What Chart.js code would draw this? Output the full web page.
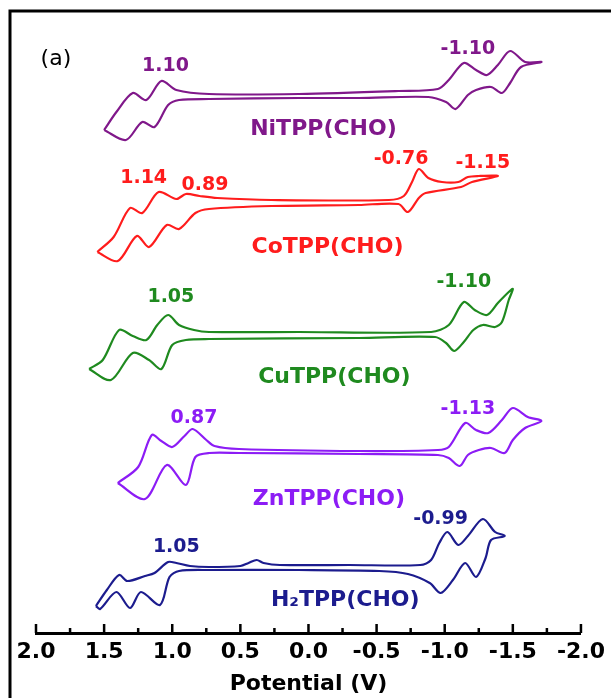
<!DOCTYPE html>
<html>
<head>
<meta charset="utf-8">
<script src="https://cdn.jsdelivr.net/npm/chart.js@4.4.1/dist/chart.umd.min.js"></script>
<style>
    html, body { margin: 0; padding: 0; background: #fff; }
    #wrap { width: 611px; height: 698px; }
</style>
</head>
<body>
<div id="wrap"><canvas id="cvChart" width="611" height="698"></canvas></div>
<script>
// potential (V) and stacked current (arb. units), traced round each loop
const niE = [1.50, 1.41, 1.29, 1.19, 1.08, 0.97, 0.73, 0.07, -0.66, -0.95, -1.03, -1.14, -1.23, -1.31, -1.39, -1.48, -1.59, -1.71, -1.56, -1.48, -1.42, -1.34, -1.23, -1.17, -1.08, -1.01, -0.88, -0.37, 0.07, 0.73, 0.95, 1.03, 1.13, 1.22, 1.34, 1.50];
const niI = [50.3, 52.1, 54.0, 53.3, 55.2, 54.3, 53.9, 53.9, 54.2, 54.4, 55.3, 57.0, 56.3, 55.8, 56.8, 58.2, 57.1, 57.1, 56.6, 55.0, 54.0, 54.6, 54.3, 53.8, 52.4, 53.1, 53.6, 53.5, 53.5, 53.4, 53.3, 52.8, 50.6, 51.1, 49.3, 50.3];

const coE = [1.55, 1.43, 1.31, 1.22, 1.10, 0.97, 0.90, 0.80, 0.67, 0.27, -0.59, -0.70, -0.76, -0.81, -0.88, -0.98, -1.10, -1.17, -1.25, -1.39, -1.20, -1.12, -0.86, -0.81, -0.73, -0.66, -0.37, 0.27, 0.73, 0.83, 0.95, 1.04, 1.17, 1.26, 1.40, 1.55];
const coI = [38.1, 39.6, 42.5, 42.0, 44.1, 43.4, 43.9, 43.7, 43.5, 43.3, 43.3, 43.7, 45.1, 46.4, 45.5, 45.1, 45.1, 45.6, 45.7, 45.7, 45.1, 44.6, 44.0, 43.5, 42.1, 42.9, 42.8, 42.7, 42.4, 42.0, 40.4, 40.8, 38.6, 39.7, 37.2, 38.1];

const cuE = [1.61, 1.51, 1.39, 1.29, 1.19, 1.11, 1.03, 0.95, 0.84, 0.73, 0.07, -0.90, -1.03, -1.14, -1.22, -1.31, -1.39, -1.47, -1.50, -1.47, -1.42, -1.37, -1.28, -1.21, -1.14, -1.07, -1.01, -0.93, -0.37, 0.73, 0.90, 1.00, 1.08, 1.17, 1.29, 1.45, 1.61];
const cuI = [26.4, 27.3, 30.3, 29.7, 29.3, 30.8, 31.8, 30.8, 30.3, 30.1, 30.1, 30.1, 30.8, 33.1, 32.3, 31.8, 33.0, 34.1, 34.4, 33.3, 31.1, 30.6, 30.8, 30.3, 29.1, 28.2, 29.0, 29.6, 29.5, 29.4, 29.3, 28.8, 26.4, 27.3, 28.0, 25.3, 26.4];

const znE = [1.40, 1.25, 1.15, 1.08, 1.00, 0.91, 0.85, 0.75, 0.69, 0.51, -0.37, -0.95, -1.03, -1.15, -1.23, -1.32, -1.42, -1.50, -1.61, -1.71, -1.59, -1.50, -1.44, -1.34, -1.25, -1.17, -1.11, -1.03, -0.95, -0.37, 0.51, 0.73, 0.83, 0.90, 1.04, 1.20, 1.40];
const znI = [15.0, 16.6, 19.8, 19.2, 18.6, 19.7, 20.4, 19.3, 18.7, 18.4, 18.2, 18.3, 18.6, 21.0, 20.3, 20.0, 21.3, 22.5, 21.6, 21.2, 20.5, 19.3, 18.0, 18.5, 18.3, 17.8, 16.7, 17.5, 17.8, 17.9, 18.0, 18.0, 17.6, 14.8, 16.8, 13.4, 15.0];

const h2E = [1.56, 1.48, 1.39, 1.33, 1.20, 1.13, 1.03, 0.97, 0.87, 0.73, 0.50, 0.44, 0.38, 0.33, 0.21, -0.30, -0.82, -0.90, -0.96, -1.02, -1.10, -1.17, -1.28, -1.37, -1.44, -1.34, -1.30, -1.23, -1.15, -1.06, -0.97, -0.89, -0.73, -0.52, 0.07, 0.73, 0.95, 1.02, 1.09, 1.23, 1.31, 1.41, 1.53, 1.56];
const h2I = [2.7, 4.3, 5.8, 5.2, 5.7, 6.0, 7.1, 7.0, 6.7, 6.6, 6.7, 7.0, 7.3, 7.0, 6.8, 6.8, 6.8, 7.3, 9.0, 10.1, 8.8, 9.7, 11.4, 10.1, 9.7, 9.3, 7.5, 5.6, 7.0, 5.3, 4.0, 5.0, 5.9, 6.2, 6.3, 6.3, 6.2, 5.6, 2.8, 4.1, 2.5, 4.1, 2.4, 2.7];

const xTicks = [2.0, 1.5, 1.0, 0.5, 0.0, -0.5, -1.0, -1.5, -2.0];
const xMinorTicks = [1.75, 1.25, 0.75, 0.25, -0.25, -0.75, -1.25, -1.75];

// annotations: text, anchor potential, anchor current, which curve
const labelText = ["1.10", "-1.10", "NiTPP(CHO)", "1.14", "0.89", "-0.76", "-1.15", "CoTPP(CHO)", "1.05", "-1.10", "CuTPP(CHO)", "0.87", "-1.13", "ZnTPP(CHO)", "1.05", "-0.99", "H\u2082TPP(CHO)"];
const labelE = [1.05, -1.17, -0.11, 1.21, 0.76, -0.68, -1.28, -0.14, 1.01, -1.14, -0.19, 0.84, -1.17, -0.15, 0.97, -0.97, -0.27];
const labelI = [56.7, 58.4, 50.35, 45.5, 44.75, 47.4, 46.95, 38.6, 33.55, 35.1, 25.55, 21.45, 22.4, 13.4, 8.55, 11.4, 3.3];
const labelCurve = [0, 0, 0, 1, 1, 1, 1, 1, 2, 2, 2, 3, 3, 3, 4, 4, 4];

const colors = ["#80188a", "#ff1c1c", "#1f8a1f", "#8c1cf5", "#1c1c8e"];

const curves = [
    [niE, niI],
    [coE, coI],
    [cuE, cuI],
    [znE, znI],
    [h2E, h2I],
];

const FONT = "'DejaVu Sans', sans-serif";

const decor = {
    id: "decor",
    afterDraw(chart) {
        const { ctx, chartArea } = chart;
        const x = chart.scales.x;
        const y = chart.scales.y;
        ctx.save();

        // outer frame (only top and left show in the figure)
        ctx.strokeStyle = "#000";
        ctx.lineWidth = 3;
        ctx.beginPath();
        ctx.moveTo(10, chart.height);
        ctx.lineTo(10, 11);
        ctx.lineTo(chart.width, 11);
        ctx.stroke();

        // ticks point up into the plot
        const base = chartArea.bottom;
        ctx.lineWidth = 2.5;
        ctx.beginPath();
        xTicks.forEach((v) => {
            const px = x.getPixelForValue(v);
            ctx.moveTo(px, base);
            ctx.lineTo(px, base - 9);
        });
        xMinorTicks.forEach((v) => {
            const px = x.getPixelForValue(v);
            ctx.moveTo(px, base);
            ctx.lineTo(px, base - 5);
        });
        ctx.stroke();

        ctx.textAlign = "center";
        ctx.textBaseline = "middle";
        ctx.fillStyle = "#000";
        ctx.font = "22px " + FONT;
        ctx.fillText("(a)", x.getPixelForValue(1.854), y.getPixelForValue(57.4));

        labelText.forEach((t, i) => {
            const big = t.includes("TPP");
            ctx.font = "bold " + (big ? 22 : 19) + "px " + FONT;
            ctx.fillStyle = colors[labelCurve[i]];
            ctx.fillText(t, x.getPixelForValue(labelE[i]), y.getPixelForValue(labelI[i]));
        });
        ctx.restore();
    },
};

new Chart(document.getElementById("cvChart").getContext("2d"), {
    type: "scatter",
    data: {
        datasets: curves.map(([e, c], k) => ({
            data: e.map((v, i) => ({ x: v, y: c[i] })),
            showLine: true,
            borderColor: colors[k],
            borderWidth: 2.2,
            pointRadius: 0,
            tension: 0.3,
            fill: false,
        })),
    },
    options: {
        responsive: false,
        animation: false,
        layout: { padding: { left: 36, right: 28, top: 11, bottom: 0 } },
        scales: {
            x: {
                type: "linear",
                min: -2,
                max: 2,
                reverse: true,
                afterBuildTicks: (scale) => {
                    scale.ticks = xTicks.map((v) => ({ value: v }));
                },
                afterFit: (scale) => {
                    scale.height = 65;
                },
                grid: { display: false, drawTicks: false },
                border: { display: true, color: "#000", width: 3 },
                ticks: {
                    color: "#000",
                    padding: 6,
                    font: { family: FONT, size: 22, weight: "bold" },
                    callback: (v) => Number(v).toFixed(1),
                },
                title: {
                    display: true,
                    text: "Potential (V)",
                    color: "#000",
                    font: { family: FONT, size: 22, weight: "bold" },
                    padding: { top: 0, bottom: 1 },
                },
            },
            y: {
                display: false,
                min: 0,
                max: 62.2,
            },
        },
        plugins: {
            legend: { display: false },
            tooltip: { enabled: false },
        },
    },
    plugins: [decor],
});
</script>
</body>
</html>
